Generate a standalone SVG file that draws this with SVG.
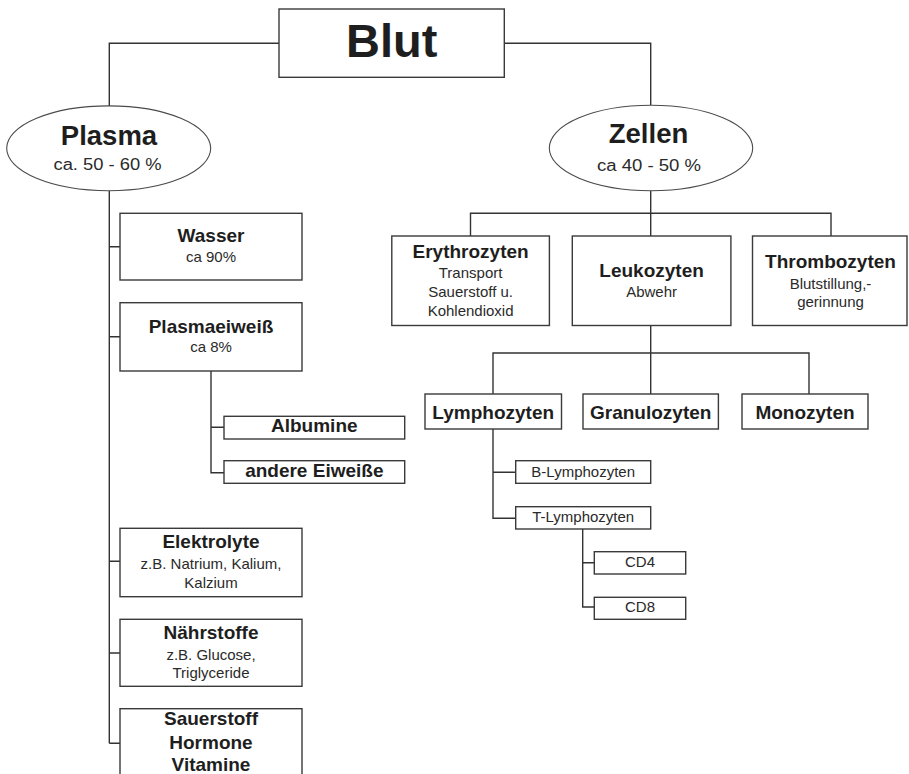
<svg xmlns="http://www.w3.org/2000/svg" width="909" height="774" viewBox="0 0 909 774">
<style>
.bg{fill:#ffffff}
.box{fill:#ffffff;stroke:#3a3a3a;stroke-width:1.4}
.ell{fill:#ffffff;stroke:#4a4a4a;stroke-width:1.1}
.con{fill:none;stroke:#333333;stroke-width:1.4}
.t{font-family:"Liberation Sans",Arial,sans-serif;font-weight:bold;font-size:19px;fill:#1e1e1e;text-anchor:middle}
.s{font-family:"Liberation Sans",Arial,sans-serif;font-size:15px;fill:#2a2a2a;text-anchor:middle}
.big{font-family:"Liberation Sans",Arial,sans-serif;font-weight:bold;font-size:47px;fill:#1e1e1e;text-anchor:middle}
.mid{font-family:"Liberation Sans",Arial,sans-serif;font-weight:bold;font-size:27.5px;fill:#1e1e1e;text-anchor:middle}
.es{font-family:"Liberation Sans",Arial,sans-serif;font-size:16px;fill:#2a2a2a;text-anchor:middle}
</style>
<rect class="bg" x="0" y="0" width="909" height="774"/>
<g id="connectors">
<path class="con" d="M279,43.3 H109.3 V106"/>
<path class="con" d="M504.3,43.3 H650.7 V105"/>
<path class="con" d="M109.3,190.7 V743.3"/>
<path class="con" d="M109.3,246.7 H120 M109.3,336.7 H120 M109.3,561.3 H120 M109.3,653 H120 M109.3,743.3 H120"/>
<path class="con" d="M211,371 V472.7 H224 M211,427.3 H224"/>
<path class="con" d="M650.7,190.5 V236 M470.5,236 V213.3 H831 V236"/>
<path class="con" d="M650.7,325.3 V394 M493,394 V353 H809 V394"/>
<path class="con" d="M493,429 V518.3 H515.7 M493,472.3 H515.7"/>
<path class="con" d="M582.7,529 V607 H594.3 M582.7,562.7 H594.3"/>
</g>
<g id="blut">
<rect class="box" x="279" y="9" width="225.3" height="68.3"/>
<text class="big" x="391.7" y="57.3">Blut</text>
</g>
<g id="plasma">
<ellipse class="ell" cx="108.7" cy="148.3" rx="102" ry="42.4"/>
<text class="mid" x="109" y="145">Plasma</text>
<text class="es" x="107.5" y="170" textLength="108" lengthAdjust="spacingAndGlyphs">ca. 50 - 60 %</text>
</g>
<g id="zellen">
<ellipse class="ell" cx="651" cy="148" rx="101.7" ry="42.7"/>
<text class="mid" x="648.5" y="143.3">Zellen</text>
<text class="es" x="649" y="170.7" textLength="104" lengthAdjust="spacingAndGlyphs">ca 40 - 50 %</text>
</g>
<g id="wasser">
<rect class="box" x="120" y="213.3" width="182" height="66.7"/>
<text class="t" x="211" y="242">Wasser</text>
<text class="s" x="211" y="262">ca 90%</text>
</g>
<g id="plasmaeiweiss">
<rect class="box" x="120" y="302.7" width="182" height="68.3"/>
<text class="t" x="211" y="332.5">Plasmaeiweiß</text>
<text class="s" x="211" y="352">ca 8%</text>
</g>
<g id="albumine">
<rect class="box" x="224" y="416.3" width="180.7" height="22.7"/>
<text class="t" x="314.3" y="432">Albumine</text>
</g>
<g id="andere">
<rect class="box" x="224" y="460.7" width="180.7" height="22.6"/>
<text class="t" x="314.3" y="477">andere Eiweiße</text>
</g>
<g id="elektrolyte">
<rect class="box" x="120" y="528.3" width="182" height="68.4"/>
<text class="t" x="211" y="548">Elektrolyte</text>
<text class="s" x="211" y="569">z.B. Natrium, Kalium,</text>
<text class="s" x="211" y="587.5">Kalzium</text>
</g>
<g id="naehrstoffe">
<rect class="box" x="120" y="619.3" width="182" height="67"/>
<text class="t" x="211" y="639">Nährstoffe</text>
<text class="s" x="211" y="660">z.B. Glucose,</text>
<text class="s" x="211" y="677.5">Triglyceride</text>
</g>
<g id="sauerstoff">
<rect class="box" x="120" y="708.7" width="182" height="80"/>
<text class="t" x="211" y="725">Sauerstoff</text>
<text class="t" x="211" y="748.5">Hormone</text>
<text class="t" x="211" y="770.5">Vitamine</text>
</g>
<g id="erythrozyten">
<rect class="box" x="391.8" y="236" width="157.6" height="89.5"/>
<text class="t" x="470.6" y="257.5">Erythrozyten</text>
<text class="s" x="470.6" y="278.4">Transport</text>
<text class="s" x="470.6" y="297.3">Sauerstoff u.</text>
<text class="s" x="470.6" y="315.5">Kohlendioxid</text>
</g>
<g id="leukozyten">
<rect class="box" x="572.3" y="236" width="158.6" height="89.5"/>
<text class="t" x="651.6" y="277">Leukozyten</text>
<text class="s" x="651.6" y="297">Abwehr</text>
</g>
<g id="thrombozyten">
<rect class="box" x="752.5" y="236" width="154.5" height="89.5"/>
<text class="t" x="830.5" y="267.7">Thrombozyten</text>
<text class="s" x="830.5" y="288.5">Blutstillung,-</text>
<text class="s" x="830.5" y="307">gerinnung</text>
</g>
<g id="lymphozyten">
<rect class="box" x="425" y="394" width="136.5" height="35"/>
<text class="t" x="493.2" y="419">Lymphozyten</text>
</g>
<g id="granulozyten">
<rect class="box" x="583" y="394" width="135.4" height="35"/>
<text class="t" x="650.7" y="419">Granulozyten</text>
</g>
<g id="monozyten">
<rect class="box" x="742" y="394" width="126" height="35"/>
<text class="t" x="805" y="419">Monozyten</text>
</g>
<g id="b-lymphozyten">
<rect class="box" x="515.7" y="460.7" width="135" height="22.6"/>
<text class="s" x="583.2" y="476.7">B-Lymphozyten</text>
</g>
<g id="t-lymphozyten">
<rect class="box" x="515.7" y="506.7" width="135" height="22.3"/>
<text class="s" x="583.2" y="522.3">T-Lymphozyten</text>
</g>
<g id="cd4">
<rect class="box" x="594.3" y="551.7" width="91.4" height="22.3"/>
<text class="s" x="640" y="566.5">CD4</text>
</g>
<g id="cd8">
<rect class="box" x="594.3" y="597.3" width="91.4" height="22"/>
<text class="s" x="640" y="612.3">CD8</text>
</g>
</svg>
